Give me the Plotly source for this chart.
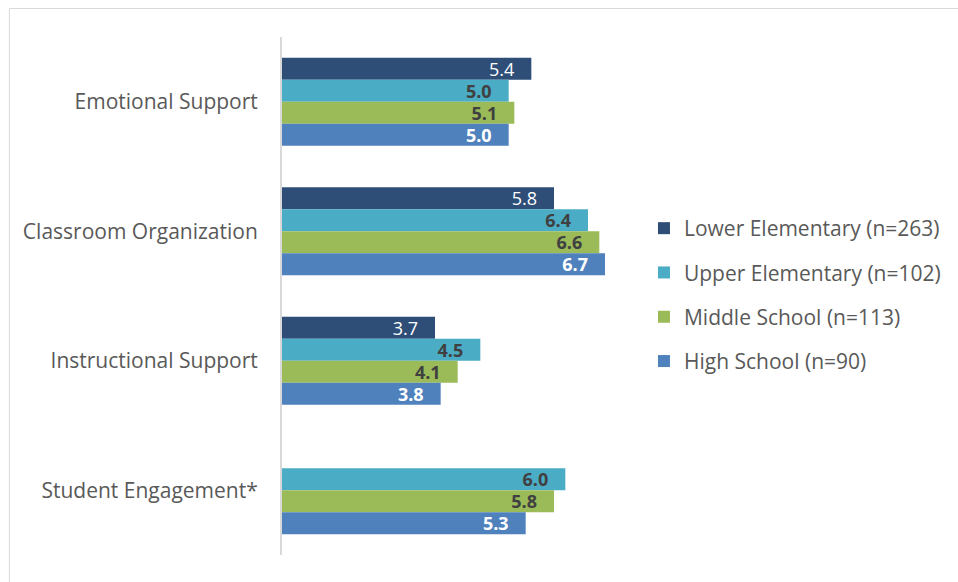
import plotly.graph_objects as go

# Domain scores by school level
categories = ["Emotional Support", "Classroom Organization", "Instructional Support", "Student Engagement*"]
series_names = ["Lower Elementary (n=263)", "Upper Elementary (n=102)",
                "Middle School (n=113)", "High School (n=90)"]
lower_elem = [5.4, 5.8, 3.7, None]
upper_elem = [5.0, 6.4, 4.5, 6.0]
middle_school = [5.1, 6.6, 4.1, 5.8]
high_school = [5.0, 6.7, 3.8, 5.3]

series_values = [lower_elem, upper_elem, middle_school, high_school]
colors = ["#2E4E78", "#4BACC6", "#9BBB59", "#4F81BD"]
label_colors = ["#FFFFFF", "#404040", "#404040", "#FFFFFF"]
label_bold = [False, True, True, True]

W, H = 958, 582
ML, MR, MT, MB = 281.5, 336, 37, 27
FONT = "Open Sans"
pad = "\u00a0\u00a0\u00a0"

fig = go.Figure()
for name, vals, col, lcol, bold in zip(series_names, series_values, colors, label_colors, label_bold):
    tmpl = ("<b>%{x:.1f}</b>" if bold else "%{x:.1f}") + pad
    fig.add_trace(go.Bar(
        y=categories, x=vals, name=name, orientation="h",
        marker=dict(color=col, line=dict(width=0)),
        texttemplate=tmpl, textposition="inside", insidetextanchor="end",
        constraintext="none", cliponaxis=True,
        textfont=dict(color=lcol, size=18, family=FONT),
        legendgroup=name, hoverinfo="skip",
    ))

pw = W - ML - MR
ph = H - MT - MB

def px_x(p):
    return (p - ML) / pw

def px_y(p):
    return (H - MB - p) / ph

fig.update_layout(
    width=W, height=H,
    margin=dict(l=ML, r=MR, t=MT, b=MB, pad=0),
    paper_bgcolor="white", plot_bgcolor="white",
    barmode="group", bargap=0.32, bargroupgap=0,
    font=dict(family=FONT, color="#595959", size=21),
    xaxis=dict(range=[1, 7], visible=False, fixedrange=True),
    yaxis=dict(autorange="reversed", showline=True, linecolor="#D9D9D9", linewidth=2,
               showgrid=False, ticks="", ticklabelstandoff=18,
               tickfont=dict(family=FONT, size=21, color="#595959")),
    showlegend=True,
    legend=dict(x=px_x(644), xanchor="left", y=px_y(295), yanchor="middle",
                traceorder="grouped", tracegroupgap=14,
                font=dict(family=FONT, size=21, color="#595959"),
                bgcolor="rgba(0,0,0,0)"),
    shapes=[dict(type="rect", xref="paper", yref="paper",
                 x0=px_x(8.5), x1=px_x(W + 5), y0=px_y(H + 5), y1=px_y(8.5),
                 line=dict(color="#D9D9D9", width=1), fillcolor="rgba(0,0,0,0)",
                 layer="below")],
)

fig.write_html("out.html")
